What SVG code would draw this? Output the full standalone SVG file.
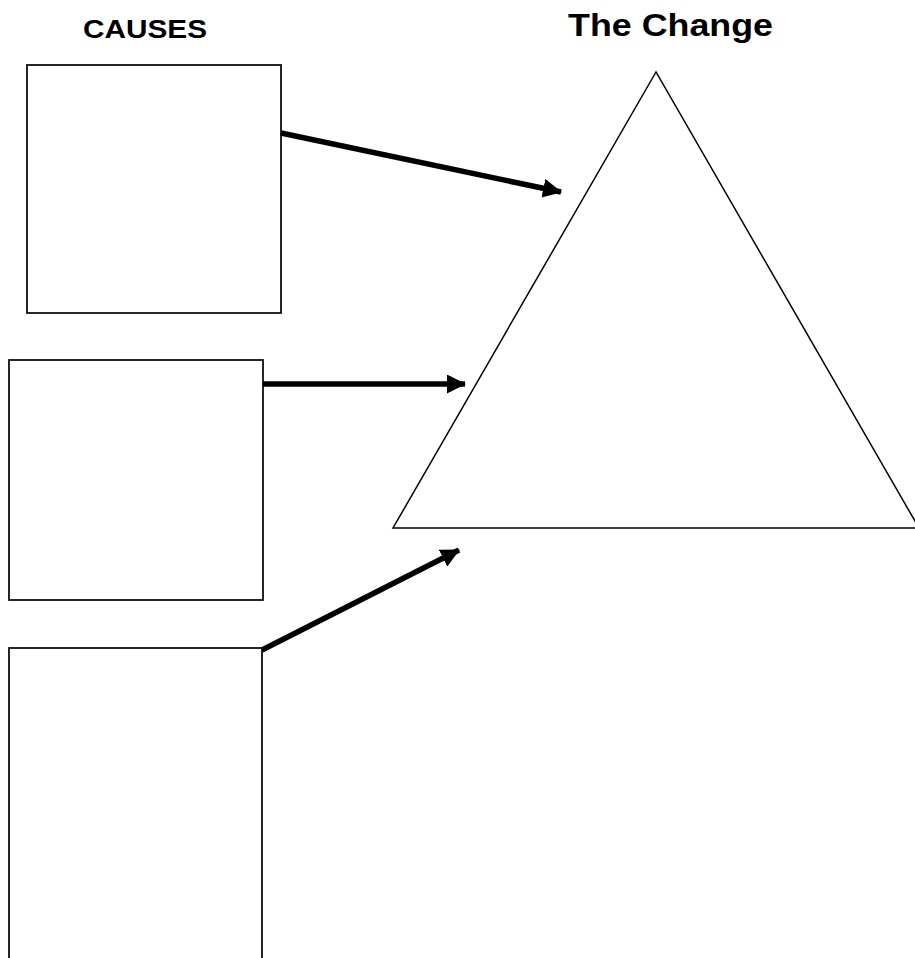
<svg xmlns="http://www.w3.org/2000/svg" width="915" height="958" viewBox="0 0 915 958">
  <style>
    .box { fill: #ffffff; stroke: #000000; stroke-width: 1.7; }
    .tri { fill: #ffffff; stroke: #000000; stroke-width: 1.5; stroke-linejoin: miter; }
    .conn { stroke: #000000; stroke-width: 5.5; fill: none; marker-end: url(#arrow); }
    .title { font-family: "Liberation Sans", Arial, sans-serif; font-weight: bold; fill: #000000; }
  </style>
  <defs>
    <marker id="arrow" viewBox="0 0 19 19" refX="18" refY="9.5" markerWidth="19" markerHeight="19" markerUnits="userSpaceOnUse" orient="auto">
      <polygon points="0,0 19,9.5 0,19" fill="#000000"/>
    </marker>
  </defs>
  <rect width="915" height="958" fill="#ffffff"/>
  <g id="label-causes">
    <text class="title" x="83" y="38" font-size="25" textLength="124" lengthAdjust="spacingAndGlyphs">CAUSES</text>
  </g>
  <g id="label-change">
    <text class="title" x="568" y="36" font-size="32" textLength="205" lengthAdjust="spacingAndGlyphs">The Change</text>
  </g>
  <g id="cause1">
    <rect class="box" x="27" y="65" width="254" height="248"/>
  </g>
  <g id="cause2">
    <rect class="box" x="9" y="360" width="254" height="240"/>
  </g>
  <g id="cause3">
    <rect class="box" x="9" y="648" width="253" height="330"/>
  </g>
  <g id="change">
    <polygon class="tri" points="656,72 393,528 919,528"/>
  </g>
  <g id="connectors">
    <line class="conn" x1="281" y1="133" x2="561" y2="192"/>
    <line class="conn" x1="263" y1="384" x2="465" y2="384"/>
    <line class="conn" x1="262" y1="650" x2="459" y2="550"/>
  </g>
</svg>
